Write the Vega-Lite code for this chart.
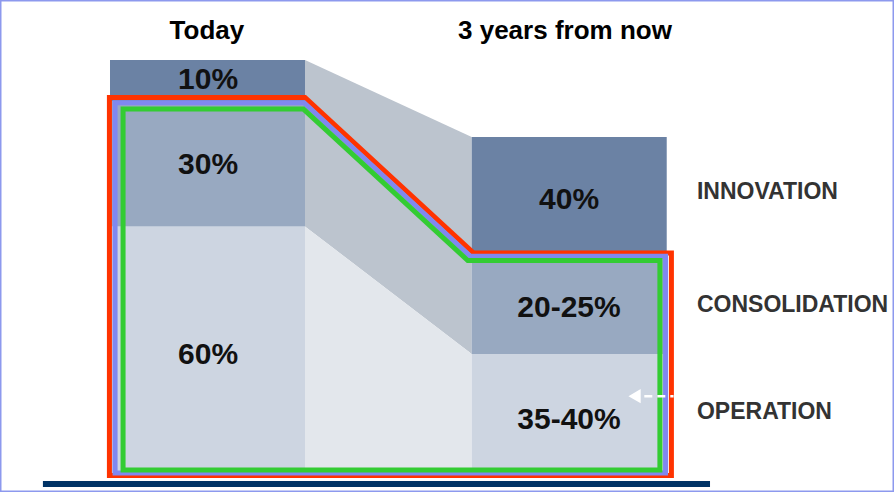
{
  "$schema": "https://vega.github.io/schema/vega-lite/v6.json",
  "width": 894,
  "height": 492,
  "padding": 0,
  "autosize": {"type": "fit", "contains": "padding"},
  "background": "white",
  "config": {"view": {"stroke": "#8d99ee", "strokeWidth": 3}},
  "datasets": {
    "bars": [
      {"period": "Today", "segment": "Operation", "x": 0, "x2": 10, "y": 0, "y2": 60, "label": "60%", "lx": 5.03, "ly": 29.1},
      {"period": "Today", "segment": "Consolidation", "x": 0, "x2": 10, "y": 60, "y2": 90, "label": "30%", "lx": 5.03, "ly": 74.8},
      {"period": "Today", "segment": "Innovation", "x": 0, "x2": 10, "y": 90, "y2": 100, "label": "10%", "lx": 5.03, "ly": 95.2},
      {"period": "3 years from now", "segment": "Operation", "x": 18.55, "x2": 28.55, "y": 0, "y2": 29.3, "label": "35-40%", "lx": 23.54, "ly": 13.5},
      {"period": "3 years from now", "segment": "Consolidation", "x": 18.55, "x2": 28.55, "y": 29.3, "y2": 53.6, "label": "20-25%", "lx": 23.54, "ly": 40.4},
      {"period": "3 years from now", "segment": "Innovation", "x": 18.55, "x2": 28.55, "y": 53.6, "y2": 81.5, "label": "40%", "lx": 23.54, "ly": 66.3}
    ],
    "connectors": [
      {"band": "upper", "x": 10, "y": 100, "y2": 60},
      {"band": "upper", "x": 18.55, "y": 81.5, "y2": 29.3},
      {"band": "lower", "x": 10, "y": 60, "y2": 0},
      {"band": "lower", "x": 18.55, "y": 29.3, "y2": 0}
    ],
    "outlines": [
      {"series": "outer", "i": 0, "x": -0.03, "y": 0.12},
      {"series": "outer", "i": 1, "x": -0.03, "y": 91.0},
      {"series": "outer", "i": 2, "x": 10.0, "y": 91.0},
      {"series": "outer", "i": 3, "x": 18.65, "y": 53.6},
      {"series": "outer", "i": 4, "x": 28.79, "y": 53.6},
      {"series": "outer", "i": 5, "x": 28.79, "y": 0.12},
      {"series": "outer", "i": 6, "x": -0.03, "y": 0.12},
      {"series": "middle", "i": 0, "x": 0.26, "y": 0.72},
      {"series": "middle", "i": 1, "x": 0.26, "y": 89.7},
      {"series": "middle", "i": 2, "x": 9.95, "y": 89.7},
      {"series": "middle", "i": 3, "x": 18.48, "y": 52.8},
      {"series": "middle", "i": 4, "x": 28.49, "y": 52.8},
      {"series": "middle", "i": 5, "x": 28.49, "y": 0.72},
      {"series": "middle", "i": 6, "x": 0.26, "y": 0.72},
      {"series": "inner", "i": 0, "x": 0.67, "y": 1.44},
      {"series": "inner", "i": 1, "x": 0.67, "y": 88.2},
      {"series": "inner", "i": 2, "x": 9.92, "y": 88.2},
      {"series": "inner", "i": 3, "x": 18.35, "y": 51.8},
      {"series": "inner", "i": 4, "x": 28.2, "y": 51.8},
      {"series": "inner", "i": 5, "x": 28.2, "y": 1.44},
      {"series": "inner", "i": 6, "x": 0.67, "y": 1.44}
    ],
    "baseline": [{"x": -3.44, "x2": 30.77, "y": -1.92}],
    "headers": [
      {"text": "Today", "x": 4.97, "y": 107.0},
      {"text": "3 years from now", "x": 23.33, "y": 107.0}
    ],
    "categories": [
      {"text": "INNOVATION", "x": 30.1, "y": 68.3},
      {"text": "CONSOLIDATION", "x": 30.1, "y": 41.1},
      {"text": "OPERATION", "x": 30.1, "y": 15.4}
    ],
    "arrow": [{"x": 27.4, "x2": 28.9, "y": 19.2, "hx": 26.9}]
  },
  "layer": [
    {
      "data": {"name": "connectors"},
      "mark": {"type": "area", "opacity": 1},
      "encoding": {
        "x": {"field": "x", "type": "quantitative", "scale": {"domain": [-5.641, 40.205], "nice": false, "zero": false}, "axis": null},
        "y": {"field": "y", "type": "quantitative", "scale": {"domain": [-3.846, 114.42], "nice": false, "zero": false}, "axis": null, "stack": null},
        "y2": {"field": "y2"},
        "color": {"field": "band", "type": "nominal", "scale": {"domain": ["upper", "lower"], "range": ["#bcc4ce", "#e3e7ec"]}, "legend": null}
      }
    },
    {
      "data": {"name": "bars"},
      "mark": {"type": "rect"},
      "encoding": {
        "x": {"field": "x", "type": "quantitative"},
        "x2": {"field": "x2"},
        "y": {"field": "y", "type": "quantitative"},
        "y2": {"field": "y2"},
        "color": {"field": "segment", "type": "nominal", "scale": {"domain": ["Innovation", "Consolidation", "Operation"], "range": ["#6b82a4", "#98a9c1", "#cdd5e1"]}, "legend": null}
      }
    },
    {
      "data": {"name": "outlines"},
      "mark": {"type": "line", "strokeJoin": "miter", "strokeCap": "square", "strokeWidth": 5},
      "encoding": {
        "x": {"field": "x", "type": "quantitative"},
        "y": {"field": "y", "type": "quantitative"},
        "order": {"field": "i", "type": "quantitative"},
        "color": {"field": "series", "type": "nominal", "scale": {"domain": ["outer", "middle", "inner"], "range": ["#ff3300", "#8088f0", "#33cc33"]}, "legend": null}
      }
    },
    {
      "data": {"name": "baseline"},
      "mark": {"type": "rule", "strokeWidth": 6, "color": "#003366"},
      "encoding": {
        "x": {"field": "x", "type": "quantitative"},
        "x2": {"field": "x2"},
        "y": {"field": "y", "type": "quantitative"}
      }
    },
    {
      "data": {"name": "arrow"},
      "mark": {"type": "rule", "strokeWidth": 2.5, "color": "white", "strokeDash": [8, 5]},
      "encoding": {
        "x": {"field": "x", "type": "quantitative"},
        "x2": {"field": "x2"},
        "y": {"field": "y", "type": "quantitative"}
      }
    },
    {
      "data": {"name": "arrow"},
      "mark": {"type": "point", "shape": "triangle-left", "filled": true, "color": "white", "opacity": 1, "size": 200},
      "encoding": {
        "x": {"field": "hx", "type": "quantitative"},
        "y": {"field": "y", "type": "quantitative"}
      }
    },
    {
      "data": {"name": "bars"},
      "mark": {"type": "text", "font": "Liberation Sans", "fontWeight": "bold", "fontSize": 30, "color": "#111111", "align": "center", "baseline": "middle"},
      "encoding": {
        "x": {"field": "lx", "type": "quantitative"},
        "y": {"field": "ly", "type": "quantitative"},
        "text": {"field": "label"}
      }
    },
    {
      "data": {"name": "headers"},
      "mark": {"type": "text", "font": "Liberation Sans", "fontWeight": "bold", "fontSize": 26, "color": "#000000", "align": "center", "baseline": "middle"},
      "encoding": {
        "x": {"field": "x", "type": "quantitative"},
        "y": {"field": "y", "type": "quantitative"},
        "text": {"field": "text"}
      }
    },
    {
      "data": {"name": "categories"},
      "mark": {"type": "text", "font": "Liberation Sans", "fontWeight": "bold", "fontSize": 23, "color": "#333333", "align": "left", "baseline": "middle"},
      "encoding": {
        "x": {"field": "x", "type": "quantitative"},
        "y": {"field": "y", "type": "quantitative"},
        "text": {"field": "text"}
      }
    }
  ],
  "resolve": {"scale": {"color": "independent"}}
}
